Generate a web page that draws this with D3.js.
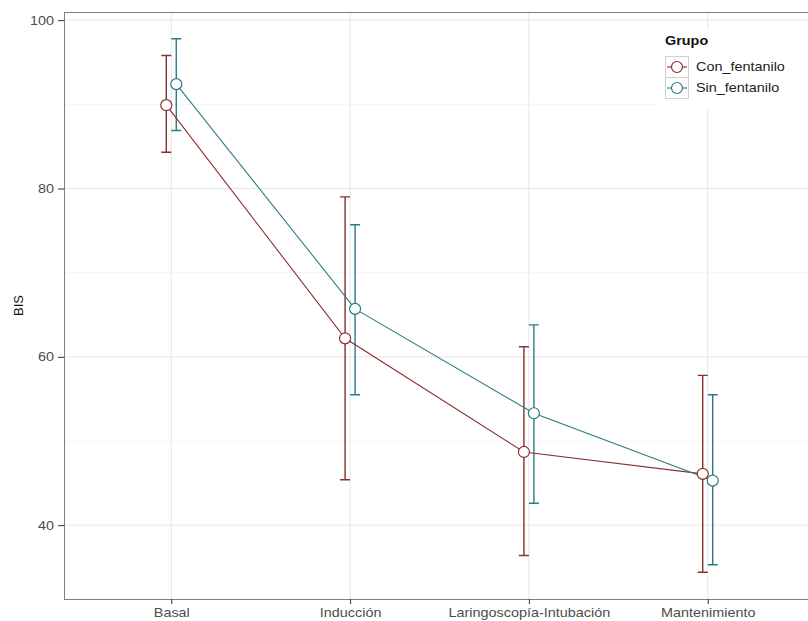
<!DOCTYPE html>
<html>
<head>
<meta charset="utf-8">
<script src="https://cdn.jsdelivr.net/npm/d3@7"></script>
<style>
    html, body { margin: 0; padding: 0; background: #fff; overflow: hidden; }
    svg { display: block; font-family: "Liberation Sans", Arial, sans-serif; }
</style>
</head>
<body>
<div id="chart"></div>
<script>
"use strict";

var momentos = ["Basal", "Inducción", "Laringoscopía-Intubación", "Mantenimiento"];
var grupos = ["Con_fentanilo", "Sin_fentanilo"];

var conMedia = [89.9, 62.2, 48.7, 46.1];
var conInf = [84.3, 45.4, 36.4, 34.4];
var conSup = [95.8, 79.0, 61.2, 57.8];

var sinMedia = [92.4, 65.7, 53.3, 45.3];
var sinInf = [86.9, 55.5, 42.6, 35.3];
var sinSup = [97.8, 75.7, 63.8, 55.5];

var yTicks = [40, 60, 80, 100];
var yMinor = [50, 70, 90];

var W = 808, H = 621,
    panel = { left: 64, top: 12, bottom: 599, right: 815 },
    colores = { Con_fentanilo: "#8a2f2f", Sin_fentanilo: "#2b7c83" },
    dodge = { Con_fentanilo: -5, Sin_fentanilo: 5 },
    STRETCH = 1.2; // the picture is a bit wider than tall, text included

var series = [
    { grupo: "Con_fentanilo", media: conMedia, inf: conInf, sup: conSup },
    { grupo: "Sin_fentanilo", media: sinMedia, inf: sinInf, sup: sinSup }
].map(function (s) {
    return {
        grupo: s.grupo,
        puntos: momentos.map(function (m, i) {
            return { momento: m, media: s.media[i], inf: s.inf[i], sup: s.sup[i] };
        })
    };
});

// rango como ggplot: datos + 5% de expansion
var lo = d3.min(conInf.concat(sinInf)),
    hi = d3.max(conSup.concat(sinSup)),
    ext = (hi - lo) * 0.05;

var x = d3.scalePoint()
    .domain(momentos)
    .range([panel.left, panel.right])
    .padding(0.6);

var y = d3.scaleLinear()
    .domain([lo - ext, hi + ext])
    .range([panel.bottom, panel.top]);

// estira el texto en horizontal alrededor de su ancla
var stretch = function (sel) {
    sel.each(function () {
        var t = d3.select(this),
            tx = +t.attr("x") || 0,
            ty = +t.attr("y") || 0;
        t.attr("transform", "translate(" + tx + "," + ty + ") scale(" + STRETCH + ",1) translate(" + (-tx) + "," + (-ty) + ")");
    });
};

var svg = d3.select("#chart")
    .append("svg")
    .attr("width", W)
    .attr("height", H);

svg.append("clipPath").attr("id", "panel-clip")
    .append("rect")
    .attr("x", panel.left).attr("y", panel.top)
    .attr("width", panel.right - panel.left)
    .attr("height", panel.bottom - panel.top);

var g = svg.append("g").attr("clip-path", "url(#panel-clip)");

// rejilla
g.selectAll("line.minor")
    .data(yMinor)
    .enter()
    .append("line")
    .attr("class", "minor")
    .attr("x1", panel.left).attr("x2", panel.right)
    .attr("y1", function (d) { return y(d); })
    .attr("y2", function (d) { return y(d); })
    .attr("stroke", "#f6f6f6")
    .attr("stroke-width", 1);

g.selectAll("line.major-y")
    .data(yTicks)
    .enter()
    .append("line")
    .attr("class", "major-y")
    .attr("x1", panel.left).attr("x2", panel.right)
    .attr("y1", function (d) { return y(d); })
    .attr("y2", function (d) { return y(d); })
    .attr("stroke", "#e6e6e6")
    .attr("stroke-width", 1);

g.selectAll("line.major-x")
    .data(momentos)
    .enter()
    .append("line")
    .attr("class", "major-x")
    .attr("y1", panel.top).attr("y2", panel.bottom)
    .attr("x1", function (d) { return x(d); })
    .attr("x2", function (d) { return x(d); })
    .attr("stroke", "#e6e6e6")
    .attr("stroke-width", 1);

// barras de error
var capW = 5;
series.forEach(function (s) {
    var col = colores[s.grupo], dx = dodge[s.grupo];
    var eb = g.append("g").attr("stroke", col).attr("stroke-width", 1.4).attr("fill", "none");
    eb.selectAll("path")
        .data(s.puntos)
        .enter()
        .append("path")
        .attr("d", function (d) {
            var cx = x(d.momento) + dx, y1 = y(d.sup), y2 = y(d.inf);
            return "M" + (cx - capW) + "," + y1 + "H" + (cx + capW) +
                "M" + cx + "," + y1 + "V" + y2 +
                "M" + (cx - capW) + "," + y2 + "H" + (cx + capW);
        });
});

// lineas
var linea = d3.line()
    .x(function (d) { return d.cx; })
    .y(function (d) { return y(d.media); });

series.forEach(function (s) {
    var dx = dodge[s.grupo];
    g.append("path")
        .datum(s.puntos.map(function (d) { return { cx: x(d.momento) + dx, media: d.media }; }))
        .attr("d", linea)
        .attr("fill", "none")
        .attr("stroke", colores[s.grupo])
        .attr("stroke-width", 1.1);
});

// puntos
series.forEach(function (s) {
    var dx = dodge[s.grupo];
    g.selectAll("circle." + s.grupo)
        .data(s.puntos)
        .enter()
        .append("circle")
        .attr("class", s.grupo)
        .attr("cx", function (d) { return x(d.momento) + dx; })
        .attr("cy", function (d) { return y(d.media); })
        .attr("r", 5.5)
        .attr("fill", "#fff")
        .attr("stroke", colores[s.grupo])
        .attr("stroke-width", 1.2);
});

// borde del panel
svg.append("rect")
    .attr("x", panel.left + 0.5).attr("y", panel.top + 0.5)
    .attr("width", panel.right - panel.left)
    .attr("height", panel.bottom - panel.top)
    .attr("fill", "none")
    .attr("stroke", "#7f7f7f")
    .attr("stroke-width", 1);

// ejes
var yAxis = d3.axisLeft(y).tickValues(yTicks).tickSize(6).tickPadding(4);
var ya = svg.append("g")
    .attr("transform", "translate(" + panel.left + ",0)")
    .call(yAxis);

var xAxis = d3.axisBottom(x).tickSize(5).tickPadding(4);
var xa = svg.append("g")
    .attr("transform", "translate(0," + panel.bottom + ")")
    .call(xAxis);

[ya, xa].forEach(function (a) {
    a.select(".domain").remove();
    a.selectAll(".tick line").attr("stroke", "#333");
    a.selectAll(".tick text")
        .attr("fill", "#4d4d4d")
        .style("font-size", "12px")
        .style("font-family", "'Liberation Sans', Arial, sans-serif")
        .call(stretch);
});

svg.append("text")
    .attr("transform", "translate(23," + ((panel.top + panel.bottom) / 2) + ") rotate(-90)")
    .attr("text-anchor", "middle")
    .attr("fill", "#111")
    .style("font-size", "13px")
    .text("BIS");

// leyenda
var leg = svg.append("g").attr("transform", "translate(657,30)");

leg.append("rect")
    .attr("x", 0).attr("y", 0)
    .attr("width", 151).attr("height", 78)
    .attr("fill", "#fff");

leg.append("text")
    .attr("x", 8).attr("y", 15)
    .attr("fill", "#111")
    .style("font-size", "12px")
    .style("font-weight", "bold")
    .text("Grupo")
    .call(stretch);

var keys = leg.selectAll("g.key")
    .data(grupos)
    .enter()
    .append("g")
    .attr("class", "key")
    .attr("transform", function (d, i) { return "translate(8," + (26 + i * 21) + ")"; });

keys.append("rect")
    .attr("x", 0.5).attr("y", 0.5)
    .attr("width", 23).attr("height", 21)
    .attr("fill", "#fff")
    .attr("stroke", "#d2d2d2");

keys.append("line")
    .attr("x1", 2).attr("x2", 22)
    .attr("y1", 11).attr("y2", 11)
    .attr("stroke", function (d) { return colores[d]; })
    .attr("stroke-width", 1.1);

keys.append("circle")
    .attr("cx", 12).attr("cy", 11).attr("r", 5.5)
    .attr("fill", "#fff")
    .attr("stroke", function (d) { return colores[d]; })
    .attr("stroke-width", 1.2);

keys.append("text")
    .attr("x", 31).attr("y", 15)
    .attr("fill", "#222")
    .style("font-size", "12px")
    .text(function (d) { return d; })
    .call(stretch);
</script>
</body>
</html>
